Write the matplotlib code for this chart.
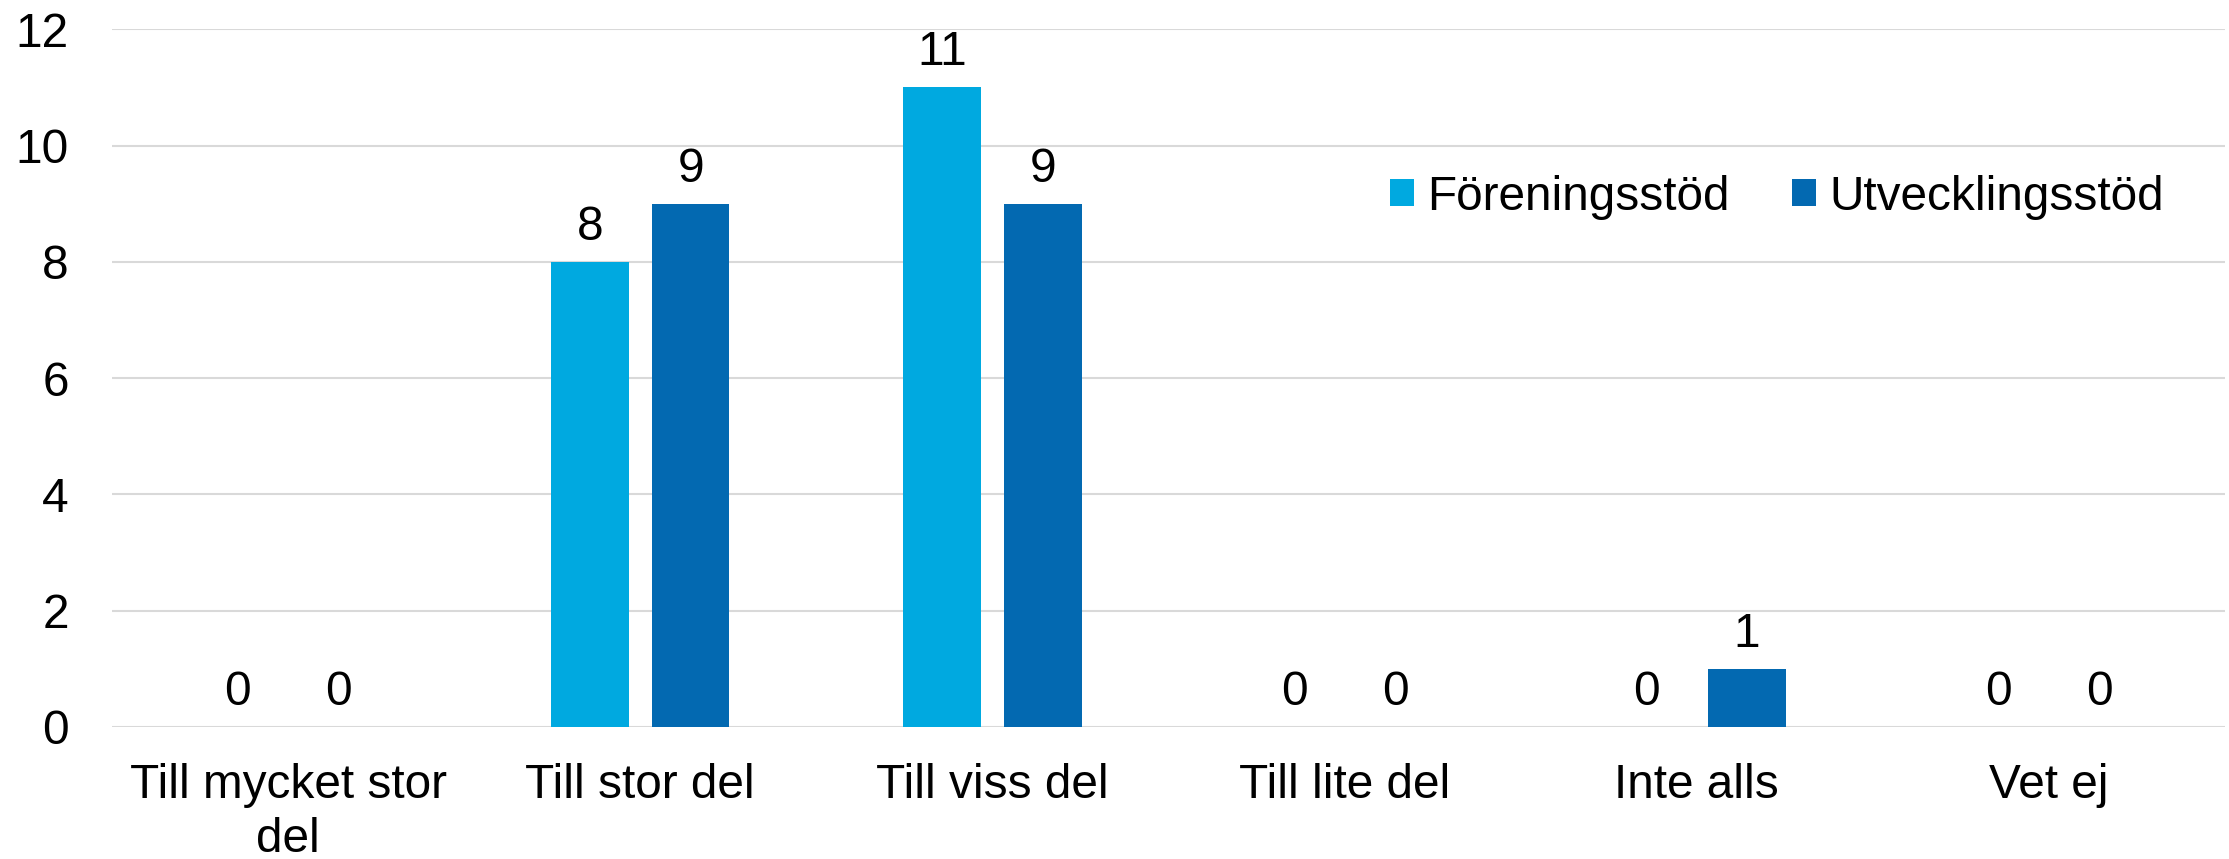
import matplotlib
matplotlib.use("Agg")
import matplotlib.pyplot as plt
from matplotlib.patches import Patch
import numpy as np

categories = ["Till mycket stor\ndel", "Till stor del", "Till viss del", "Till lite del", "Inte alls", "Vet ej"]
series_names = ["Föreningsstöd", "Utvecklingsstöd"]
foreningsstod = [0, 8, 11, 0, 0, 0]
utvecklingsstod = [0, 9, 9, 0, 1, 0]
colors = ["#00A9E0", "#0369B1"]
yticks = [0, 2, 4, 6, 8, 10, 12]

plt.rcParams['font.family'] = ['Liberation Sans', 'DejaVu Sans']
FS = 34.4

W, H, DPI = 2229, 859, 100
fig = plt.figure(figsize=(W / DPI, H / DPI), dpi=DPI)
left, right = 112 / W, 2225 / W
bottom, top = 1 - 727 / H, 1 - 29.3 / H
ax = fig.add_axes([left, bottom, right - left, top - bottom])

x = np.arange(len(categories))
bw = 0.22
off = 0.143
for vals, name, col, sgn in [(foreningsstod, series_names[0], colors[0], -1),
                              (utvecklingsstod, series_names[1], colors[1], 1)]:
    bars = ax.bar(x + sgn * off, vals, width=bw, color=col, label=name, zorder=3)
    for b, v in zip(bars, vals):
        ax.annotate(str(v), (b.get_x() + b.get_width() / 2, v),
                    xytext=(0, 15.8), textcoords='offset points',
                    ha='center', va='baseline', fontsize=FS, color='black')

ax.set_xlim(-0.5, len(categories) - 0.5)
ax.set_ylim(0, 12)
ax.set_yticks(yticks)
ax.set_yticklabels([str(t) for t in yticks])
ax.set_xticks(x)
ax.set_xticklabels(categories, linespacing=1.26)
ax.tick_params(axis='y', length=0, pad=31, labelsize=FS, labelcolor='black')
ax.tick_params(axis='x', length=0, pad=26, labelsize=FS, labelcolor='black')
ax.grid(axis='y', color='#D9D9D9', linewidth=1.5, zorder=0)
ax.set_axisbelow(True)
for s in ax.spines.values():
    s.set_visible(False)

handles = [Patch(facecolor=c, edgecolor='none') for c in colors]
fig.legend(handles, series_names, loc='center left',
           bbox_to_anchor=(1390 / W, 1 - 197 / H), bbox_transform=fig.transFigure,
           ncol=2, frameon=False, fontsize=FS, borderpad=0, borderaxespad=0,
           handlelength=0.5, handleheight=0.5, handletextpad=0.28, columnspacing=1.3)

fig.savefig("out.png", dpi=DPI)
